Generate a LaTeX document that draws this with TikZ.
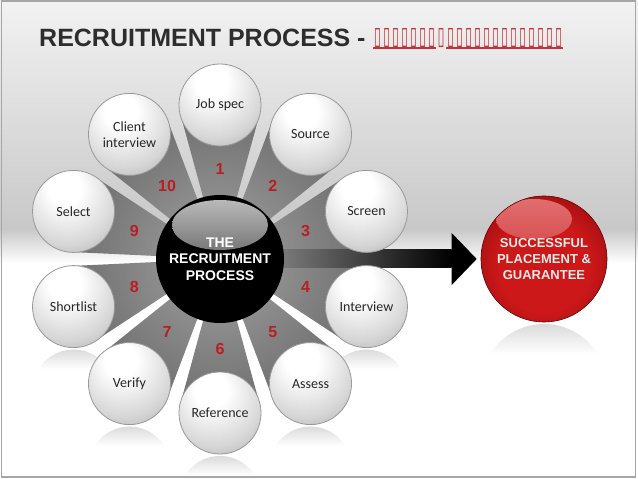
\documentclass[tikz,border=0pt]{standalone}
\usepackage{fontspec}
\setmainfont{Liberation Sans}
\newfontfamily\calibri{Carlito}
\newfontfamily\simbolos{DejaVu Sans}
\usetikzlibrary{calc,fadings}

\definecolor{titulo}{RGB}{45,45,45}
\definecolor{rojonum}{RGB}{185,30,35}
\definecolor{rojoenlace}{RGB}{200,50,55}
\definecolor{fondogris}{RGB}{200,200,200}
\definecolor{rubi}{RGB}{205,24,26}
\definecolor{rubioscuro}{RGB}{120,5,8}

\pgfdeclareradialshading{burbuja}{\pgfpoint{-6bp}{16bp}}{color(0bp)=(white); color(10bp)=(white); color(30bp)=(black!16); color(48bp)=(black!38); color(80bp)=(black!48)}
\pgfdeclareradialshading{bolarubi}{\pgfpoint{0bp}{-4bp}}{color(0bp)=(rubi); color(18bp)=(rubi); color(42bp)=(rubioscuro); color(52bp)=(rubioscuro!75!black); color(80bp)=(rubioscuro!75!black)}
\tikzfading[name=reflejo, top color=transparent!35, bottom color=transparent!100]

\newcommand\tofu{\makebox[9pt]{\resizebox{7pt}{16pt}{\simbolos\symbol{"25AF}}}}

\tikzset{
    paso/.style={circle, minimum size=82pt, inner sep=0pt, draw=black!40, line width=0.8pt,
        shade, shading=burbuja, align=center, text=black!85,
        font=\calibri\fontsize{14}{16}\selectfont},
    num/.style={text=rojonum, font=\bfseries\fontsize{16}{16}\selectfont},
    enlace/.style={inner sep=0pt, text=rojoenlace, font=\fontsize{21}{21}\selectfont},
    reflejar/.style={black!28, path fading=reflejo}
}

\begin{document}
\begin{tikzpicture}[x=1pt, y=1pt]
    \useasboundingbox (0,0) rectangle (638,479);

    % Fondo
    \fill[top color=white!95!black, bottom color=fondogris] (0,479) rectangle (638,250);
    \fill[top color=fondogris, bottom color=white] (0,250) rectangle (638,216);
    \fill[white] (0,0) rectangle (638,216);

    % Titulo
    \node[anchor=base west, inner sep=0pt, text=titulo, font=\bfseries\fontsize{25}{25}\selectfont]
        (tit) at (39,432) {RECRUITMENT PROCESS -};
    \node[enlace, anchor=base west] (tA) at (373,434) {\tofu\tofu\tofu\tofu\tofu\tofu\tofu};
    \node[enlace, anchor=base west] (tB) at (tA.base east) {\tofu};
    \node[enlace, anchor=base west] (tC) at (tB.base east) {\tofu\tofu\tofu\tofu\tofu\tofu\tofu\tofu\tofu\tofu\tofu\tofu\tofu};
    \draw[rojoenlace, line width=1.8pt] ([yshift=-3]tA.base west) -- ([yshift=-3]tA.base east);
    \draw[rojoenlace, line width=1.8pt] ([yshift=-3]tC.base west) -- ([yshift=-3]tC.base east);

    \coordinate (o) at (220,220);

    % Reflejos
    \foreach \a in {-18,-54,-90,-126,-162}
        \fill[reflejar] ($(o)+(\a:154)+(0,-84)+(148:41)$) arc[start angle=148, end angle=32, radius=41] -- cycle;
    \fill[reflejar] ($(544,92)+(148:63)$) arc[start angle=148, end angle=32, radius=63] -- cycle;

    % Conos
    \begin{scope}
        \clip \foreach \i in {0,...,9} {
            (o) -- ($(o)+(90-36*\i+15.3:149.5)$) -- ($(o)+(90-36*\i-15.3:149.5)$) -- cycle
        };
        \shade[inner color=black!36, outer color=black!58] (o) circle (160);
    \end{scope}

    % Meta
    \node[circle, minimum size=126pt, inner sep=0pt, shade, shading=bolarubi,
        draw=rubioscuro!80!black, line width=0.6pt, align=center, text=white!92!black,
        font=\bfseries\fontsize{13}{16}\selectfont,
        path picture={\shade[top color=white!38!rubi, bottom color=rubi]
            ($(path picture bounding box.center)+(-10,40)$) ellipse (38 and 20);}]
        (meta) at (544,220) {SUCCESSFUL\\PLACEMENT \&\\GUARANTEE};

    % Flecha
    \shade[left color=black!35, right color=black]
        ($(o)+(0,9)$) rectangle ([xshift=-29,yshift=-9]meta.west);
    \fill[black] ([xshift=-29,yshift=26]meta.west) -- ([xshift=-4]meta.west)
        -- ([xshift=-29,yshift=-26]meta.west) -- cycle;

    % Pasos
    \foreach \nombre [count=\i] in {Job spec, Source, Screen, Interview, Assess,
        Reference, Verify, Shortlist, Select, {Client\\interview}} {
        \node[paso] (p\i) at ($(o)+(126-36*\i:154)$) {\nombre};
        \node[num] (n\i) at ($(o)+(126-36*\i:90)$) {\i};
    }

    % Centro
    \node[circle, minimum size=128pt, inner sep=0pt, fill=black, align=center, text=white,
        font=\bfseries\fontsize{14}{16.5}\selectfont,
        path picture={\shade[top color=black!25, bottom color=black!90]
            ($(path picture bounding box.center)+(0,34)$) ellipse (48 and 25);}]
        (hub) at (o) {THE\\RECRUITMENT\\PROCESS};

    % Marco
    \draw[black!35, line width=1.5pt] (1.5,2) rectangle (635.5,478);

\end{tikzpicture}
\end{document}
